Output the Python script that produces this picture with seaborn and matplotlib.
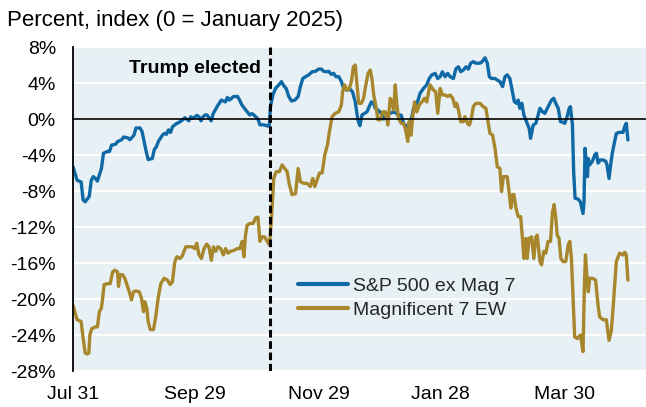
import numpy as np
import pandas as pd
import matplotlib
matplotlib.use("Agg")
import matplotlib.pyplot as plt
import matplotlib.dates as mdates
from matplotlib.ticker import FuncFormatter, FixedLocator
import seaborn as sns

# ---------------- data ----------------
base_date = "2024-07-31"
election_date = "2024-11-05"
tick_dates = ["2024-07-31", "2024-09-29", "2024-11-29", "2025-01-28", "2025-03-30"]
y_ticks = [8, 4, 0, -4, -8, -12, -16, -20, -24, -28]

sp_days = [0, 2, 4, 5, 6, 8, 9, 10, 11, 12, 14, 15, 17, 18, 19, 21, 22, 24, 25, 27, 28, 30, 31, 33, 34, 35, 36, 37, 39,
           40, 41, 42, 44, 45, 46, 47, 48, 49, 51, 52, 54, 55, 57, 58, 59, 61, 62, 63, 64, 65, 66, 68, 69, 70, 71, 72, 73,
           75, 76, 77, 78, 79, 81, 82, 83, 85, 87, 88, 89, 91, 92, 94, 96, 96.6,
           97.2, 98.4, 99.7, 101.3, 102.6, 103.7, 104.9, 106.2, 107.5, 109.2, 110.8, 111.9, 113.1, 114.4, 116.0, 117.7,
           119.3, 120.9, 122.2, 123.4, 124.5, 125.8, 127.2, 128.3, 129.4, 130.8, 132.1, 133.2, 134.8, 136.5, 137.6,
           138.9, 140.2, 141.2, 142.2, 143.5, 144.7, 145.8, 146.8, 147.9, 148.8, 150.1, 151.7, 152.8, 153.7, 155.0,
           156.1, 157.8, 159.1, 160.2, 161.5, 162.7, 164.3, 165.4, 166.8, 167.6, 168.7, 169.7, 170.8, 172.5, 174.1,
           175.3, 176.6, 178.2, 179.5, 180.7, 181.8, 183.1, 184.4, 185.6,
           187.2, 188.5, 189.7, 190.8, 192.1, 193.4, 194.6, 195.7, 197.0, 198.3, 200.0, 201.1, 202.8, 203.9, 204.9,
           206.0, 207.7, 208.8, 210.1, 211.4, 212.6, 213.7, 215.0, 216.3, 217.2, 218.3, 219.1, 219.9, 220.9, 221.9,
           223.2, 224.5, 225.2, 226.5, 227.8, 228.9, 229.8, 231.1, 232.2, 233.0, 234.3, 235.5, 236.6, 237.6, 238.8,
           239.9, 241.2, 242.0, 243.2, 244.2, 244.8, 245.8, 246.4, 247.1, 248.6, 249.7, 251.0, 251.5, 252.0, 252.7,
           253.2, 253.6, 254.3, 255.6, 256.8, 257.6, 258.4, 259.5, 260.9, 262.2, 262.8, 263.8, 264.6, 265.4, 266.6,
           267.4, 269.0, 270.7, 271.5, 272.3, 273.1]
sp_values = [-5.3, -6.8, -7.0, -9.0, -9.2, -8.6, -6.8, -6.4, -6.6, -6.9, -5.5, -3.8, -3.6, -3.6, -2.9, -2.8, -2.5, -2.3,
             -2.0, -2.1, -2.3, -1.8, -1.0, -1.0, -1.4, -2.5, -3.6, -4.5, -4.4,
             -3.4, -3.1, -2.5, -1.8, -1.6, -1.7, -1.2, -1.5, -0.85, -0.5, -0.4, -0.1, 0.15, -0.2, 0.25, 0.07, 0.4, 0.25,
             -0.2, 0.25, 0.45, 0.45, -0.2, 0.6, 1.0, 1.4, 1.75, 2.1,
             1.9, 2.4, 2.1, 2.3, 2.5, 2.5, 2.1, 1.6, 1.0, 0.45, 0.6, 0.45, 0.0, -0.65, -0.65, -0.8, -0.7,
             1.4, 2.7, 3.4, 3.8, 4.15, 3.7, 3.4, 2.5, 2.0, 2.1, 2.5, 3.6, 4.5, 4.7, 4.9, 5.25,
             5.3, 5.55, 5.55, 5.3, 5.25, 5.3, 4.96, 5.07, 4.7, 4.7, 4.15, 3.4, 3.2, 3.3, 3.0,
             1.9, -0.1, -0.74, 0.44, 0.63, 0.8, 1.37, 1.9, 1.74, 1.19, 1.0, 0.63, 0.0, 0.15, 0.63,
             0.63, 0.8, 0.63, 0.44, 0.44, -0.48, -0.85, -0.85, 0.26, 1.19, 1.56, 2.0, 2.85, 3.4, 3.8,
             4.5, 4.9, 5.07, 4.5, 4.7, 5.25, 4.7, 5.07, 4.7,
             4.5, 5.6, 5.8, 5.26, 5.44, 5.8, 5.55, 6.2, 6.37, 6.2, 6.2, 6.3, 6.8, 6.2, 4.7,
             4.5, 4.5, 4.33, 4.15, 3.6, 4.7, 4.9, 4.5, 3.0, 1.93, 1.74, 2.1, 1.19, 1.74, 0.44,
             -0.3, -1.04, -2.15, -0.67, -0.48, 0.44, 1.19, 0.8, 0.63, 1.0, 1.56, 2.1, 2.3, 1.74, 1.19,
             -0.3, -0.37, -0.48, 0.26, 1.19, 1.37, -0.67, -5.85, -8.8, -8.9, -9.2, -10.5, -9.2, -3.26, -5.1,
             -6.4, -4.4, -5.1, -4.7, -4.0, -3.8, -4.9, -4.55, -4.55, -4.7, -5.1, -6.6, -5.1, -3.8, -2.5,
             -1.6, -1.48, -1.48, -0.85, -0.48, -2.33]

mag_days = [0, 2, 4, 5, 6, 7, 7.8, 8.3, 9.2, 11, 12, 13, 14, 14.6, 15.3, 17, 18.3, 19.5, 20.6, 21.9, 22.4, 23.2, 24.4,
            25.5, 26.5, 27.7, 28.8, 29.8, 30.9, 32.6, 33.7, 34.7, 35.3, 36.3, 37.0, 38.0, 39.6, 40.7, 41.9, 43.2, 44.8,
            46.5, 47.8, 48.9, 50.1, 51.1, 52.7, 53.8, 55.5, 57.1, 58.7, 59.9, 60.9, 62.0, 63.2, 64.5, 65.8, 66.9, 68.1,
            69.1, 70.2, 71.3, 72.7, 74.0, 75.1, 76.3, 77.6, 79.2, 80.8, 82.1, 83.3, 84.1, 84.9, 85.7, 87.1, 88.7, 89.8,
            91.0, 92.0, 93.1, 94.3, 95.6, 96.7, 97.7, 98.8, 100.0, 101.6, 102.9, 104.2, 105.4, 106.5, 107.8, 109.5,
            110.8, 111.9, 113.6, 115.2, 116.8, 118.0, 119.0, 120.1, 121.3, 122.6, 123.9, 125.2, 126.2, 127.5, 129.1,
            130.8, 132.1, 132.7, 133.7, 134.8, 136.0, 137.0, 138.0, 138.9, 139.8, 140.6, 141.9, 143.0, 143.8, 145.2,
            146.3, 147.1, 148.0, 149.1, 150.1, 151.2, 152.4, 153.7, 155.0, 156.1, 157.0, 157.8, 158.6, 159.4, 160.2,
            161.5, 162.7, 163.5, 164.8, 165.4, 166.4, 167.1, 168.1, 169.2, 170.4, 171.7, 173.0, 174.1, 175.7, 177.4,
            178.5, 179.5, 180.7, 181.8, 183.1, 184.4, 185.6, 186.9, 188.0, 188.8, 189.7, 190.8, 192.1, 192.9, 194.1,
            195.1, 196.2, 197.0, 198.3, 200.3, 201.9, 203.2, 204.4, 205.2, 206.5, 207.7, 208.8, 210.1, 210.9, 211.8,
            212.6, 213.7, 214.7, 215.5, 216.3, 217.0, 218.0, 219.1, 220.3, 221.2, 221.9, 222.9, 223.5, 224.5, 225.7,
            226.8, 227.8, 228.5, 229.8, 230.6, 231.7, 232.7, 233.8, 235.0, 236.0, 236.8, 237.6, 238.3, 239.2, 240.1,
            241.2, 242.5, 243.7, 244.5, 245.3, 246.1, 246.9, 248.1, 249.7, 251.0, 251.7, 252.2, 253.0, 253.6, 254.3,
            255.6, 257.2, 258.4, 259.2, 260.9, 262.5, 263.8, 264.9, 265.8, 266.6, 267.4, 269.0, 270.7, 271.5, 272.3,
            273.1]
mag_values = [-20.7, -22.3, -22.5, -24.4, -26.0, -26.1, -26.0, -24.0, -23.3, -23.1, -23.1, -21.4, -21.0, -19.9, -18.4,
              -18.3, -18.3, -17.0, -16.8, -17.0, -18.6, -17.3, -17.3,
              -17.7, -18.4, -19.2, -20.1, -19.2, -19.1, -19.2, -19.9, -21.4, -20.3, -21.0, -22.5, -23.4, -23.4, -22.0,
              -19.9, -18.3, -17.7,
              -17.9, -18.4, -18.1, -15.9, -15.3, -15.5, -15.2, -14.2, -14.2, -14.2, -14.4, -13.8, -15.1, -15.5, -14.4,
              -13.9, -14.2, -15.7,
              -14.2, -14.7, -14.2, -14.4, -15.1, -14.4, -14.9, -14.7, -14.6, -14.4, -14.4, -13.6, -15.3, -12.9, -11.8,
              -11.6, -11.6, -11.0,
              -10.9, -13.6, -13.1, -13.1, -13.6, -14.0, -11.0, -6.6, -5.85, -5.85, -5.1, -5.5, -5.85, -7.3, -8.4, -8.3,
              -5.5, -6.96, -7.15, -7.15, -7.5, -6.6, -7.5, -6.8, -6.0, -6.0, -4.0, -2.9, -1.4, 0.26, 0.63,
              0.8, 1.56, 3.04, 3.8, 3.2, 3.4, 4.15, 5.8, 6.0, 3.8, 1.74, 1.74, 2.3, 3.4, 5.07,
              5.44, 4.5, 2.67, 1.37, -0.1, -0.1, 0.8, 0.8, -0.67, 2.3, 1.9, 1.0, 3.8, 1.56, 0.07,
              -0.48, -0.48, -1.04, -2.5, -0.3, -1.8, 0.07, 1.9, 0.8, 1.56, 1.9, 2.3, 1.9, 3.8, 3.2,
              3.04, 0.63, 3.4, 2.67, 2.67, 2.5, 2.67, 2.3, 1.37, 1.74, 1.0, -0.3, -0.3, 0.26, -0.48,
              -0.67, 0.26, 1.37, 1.74, 1.74, 1.37, 1.19, -0.48, -1.6, -1.78, -3.26, -5.3, -5.5, -8.07, -6.4,
              -6.4, -6.4, -8.26, -9.9, -8.4, -8.4, -9.9, -10.85, -10.85, -13.26, -15.5, -13.26, -15.5, -13.26, -13.1,
              -15.5, -13.1, -12.9, -15.85, -16.2, -14.7, -14.9, -13.6, -13.6, -10.3, -9.5, -11.0, -12.9, -13.26, -15.5,
              -15.85, -15.85, -14.0, -13.6, -15.5, -19.9, -24.2, -24.4, -24.0, -25.85, -18.4, -15.1, -17.7, -19.2,
              -17.7,
              -17.7, -17.9, -20.7, -22.0, -22.3, -22.3, -24.6, -23.6, -21.0, -18.4, -15.85, -14.9, -15.1, -14.8, -15.1,
              -17.9]

series_names = ["S&P 500 ex Mag 7", "Magnificent 7 EW"]
series_colors = ["#0f69a6", "#a8862c"]

# ---------------- build frame ----------------
t0 = pd.Timestamp(base_date)
df = pd.concat([
    pd.DataFrame({"date": t0 + pd.to_timedelta(sp_days, unit="D"), "value": sp_values, "series": series_names[0]}),
    pd.DataFrame({"date": t0 + pd.to_timedelta(mag_days, unit="D"), "value": mag_values, "series": series_names[1]}),
], ignore_index=True)

sns.set_style("white")
plt.rcParams["font.family"] = ["Liberation Sans", "DejaVu Sans"]

fig = plt.figure(figsize=(6.46, 4.07), dpi=100)
ax = fig.add_axes([73 / 646, 36 / 407, 573 / 646, 324 / 407])
ax.set_facecolor("#e7f0f4")

sns.lineplot(data=df, x="date", y="value", hue="series", hue_order=series_names,
             palette=dict(zip(series_names, series_colors)), linewidth=2.4, ax=ax,
             estimator=None, sort=False, legend=True, zorder=2)

xmin = pd.Timestamp(base_date)
xmax = pd.Timestamp("2025-05-09")
ax.set_xlim(xmin, xmax)
ax.set_ylim(-28, 8)
ax.set_xlabel("")
ax.set_ylabel("")

# y axis
ax.yaxis.set_major_locator(FixedLocator(y_ticks))
ax.yaxis.set_major_formatter(FuncFormatter(lambda v, p: f"{int(round(v))}%"))
ax.tick_params(axis="y", direction="out", length=3.8, width=1.1, color="black", pad=8.5,
               labelsize=14, labelcolor="black")
ax.grid(axis="y", color="white", linewidth=1.6)
ax.grid(axis="x", visible=False)
ax.set_axisbelow(True)

for s in ["top", "right"]:
    ax.spines[s].set_visible(False)
ax.spines["left"].set_color("black")
ax.spines["left"].set_linewidth(1.3)
ax.spines["bottom"].set_position(("data", 0))
ax.spines["bottom"].set_color("black")
ax.spines["bottom"].set_linewidth(1.2)

tick_nums = mdates.date2num(pd.to_datetime(tick_dates))
ax.xaxis.set_major_locator(FixedLocator(tick_nums))
ax.tick_params(axis="x", direction="out", length=4.3, width=1.1, color="black", labelbottom=False)

sec = ax.secondary_xaxis(0)
sec.xaxis.set_major_locator(FixedLocator(tick_nums))
sec.xaxis.set_major_formatter(mdates.DateFormatter("%b %d"))
sec.tick_params(axis="x", length=0, pad=11, labelsize=14, labelcolor="black")
sec.spines["bottom"].set_visible(False)

# election marker
el = pd.Timestamp(election_date)
ax.axvline(el, color="black", linewidth=2.2, linestyle=(0, (2.5, 1.2)), zorder=3)
ax.annotate("Trump elected", xy=(el, 5.6), xytext=(-6.5, 0), textcoords="offset points",
            ha="right", va="center", fontsize=14, fontweight="bold", color="black")

# legend
handles, labels = ax.get_legend_handles_labels()
leg = ax.legend(handles, labels, loc="center left", bbox_to_anchor=(0.3927, 0.2253),
                frameon=False, borderpad=0, borderaxespad=0, handlelength=2.57,
                handletextpad=0.25, labelspacing=0.3, fontsize=14)
for h in leg.get_lines():
    h.set_linewidth(3)

fig.text(7 / 646, 1 - 26 / 407, "Percent, index (0 = January 2025)", fontsize=16,
         ha="left", va="baseline", color="black")

fig.savefig("out.png", dpi=100)
